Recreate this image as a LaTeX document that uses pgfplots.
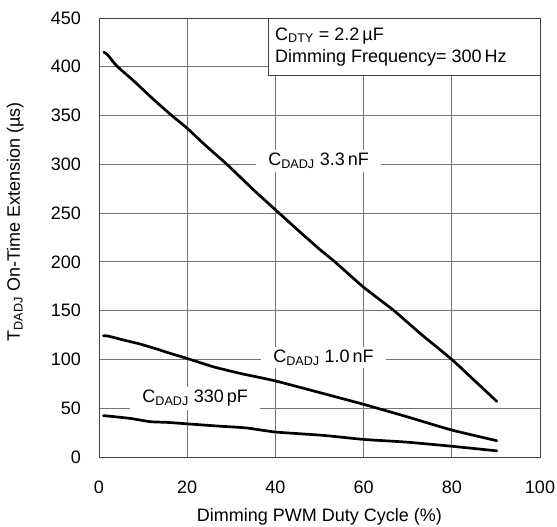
\documentclass[border=0pt]{standalone}
\usepackage{fontspec}
\setmainfont{Liberation Sans}
\usepackage{pgfplots}
\pgfplotsset{compat=1.18}
\begin{document}
\fontsize{18}{21}\selectfont
\begin{tikzpicture}
\begin{axis}[
  scale only axis,
  width=441pt, height=439pt,
  xmin=0, xmax=100, ymin=0, ymax=450,
  xtick={0,20,...,100}, ytick={0,50,...,450},
  grid=major,
  major grid style={draw=black!55, line width=0.8pt},
  axis line style={draw=black!75, line width=0.9pt},
  major tick length=0pt,
  tick label style={font=\fontsize{18}{21}\selectfont},
  /pgf/number format/assume math mode=true,
  xticklabel style={yshift=-18pt},
  yticklabel style={xshift=-12pt},
  label style={font=\fontsize{18.2}{21}\selectfont},
  xlabel={Dimming PWM Duty Cycle (\%)},
  ylabel={T\textsubscript{DADJ} On-Time Extension (µs)},
  every axis x label/.style={at={(axis description cs:0.5,-0.136)},anchor=center},
  every axis y label/.style={at={(axis description cs:-0.19,0.536)},rotate=90,anchor=center},
  clip=false,
]
\draw[draw=black!75, line width=0.9pt, fill=white] (axis cs:38.5,391.6) rectangle (axis cs:100,450);
\node[anchor=base west, inner sep=0pt] at (axis cs:39.9,427.4) {C\textsubscript{DTY} = 2.2\,µF};
\node[anchor=base west, inner sep=0pt] at (axis cs:39.9,404.5) {Dimming Frequency= 300\,Hz};
\node[fill=white, inner xsep=12pt, inner ysep=3pt] at (axis cs:49.8,303.6) {C\textsubscript{DADJ} 3.3\,nF};
\node[fill=white, inner xsep=12pt, inner ysep=3pt] at (axis cs:50.9,101.8) {C\textsubscript{DADJ} 1.0\,nF};
\node[fill=white, inner xsep=12pt, inner ysep=3pt] at (axis cs:21.8,60) {C\textsubscript{DADJ} 330\,pF};
\addplot[black, line width=2.7pt, line join=round, line cap=round, smooth, tension=0.3] coordinates {
(1.1,415) (2,412) (4,401) (8,385) (12,368) (16.5,350) (20,337) (24,320) (29,300) (35,274) (40.6,251) (45,233) (50,213) (53.5,200) (60,174) (66.9,150) (73,126) (80,100) (85,79) (90.2,57)
};
\addplot[black, line width=2.7pt, line join=round, line cap=round, smooth, tension=0.3] coordinates {
(1,124.3) (2,124) (5.5,120) (9.3,115.8) (13.1,110.7) (16.1,106.3) (20,101) (25.9,92.5) (32,85.7) (40,78) (50.9,65) (60,54) (69.8,41.3) (80,27.6) (90.2,16.7)
};
\addplot[black, line width=2.7pt, line join=round, line cap=round, smooth, tension=0.3] coordinates {
(1,42.3) (2,42) (7,39.6) (11.6,36.2) (15.4,35.5) (20,34) (26.7,31.8) (33.4,29.8) (40,25.6) (50.8,22.2) (60,18) (69.6,15.3) (80,11) (90.2,6.3)
};
\end{axis}
\pgfresetboundingbox
\useasboundingbox ([xshift=-99pt,yshift=-70pt]current axis.south west) rectangle ([xshift=17pt,yshift=18pt]current axis.north east);
\end{tikzpicture}
\end{document}
